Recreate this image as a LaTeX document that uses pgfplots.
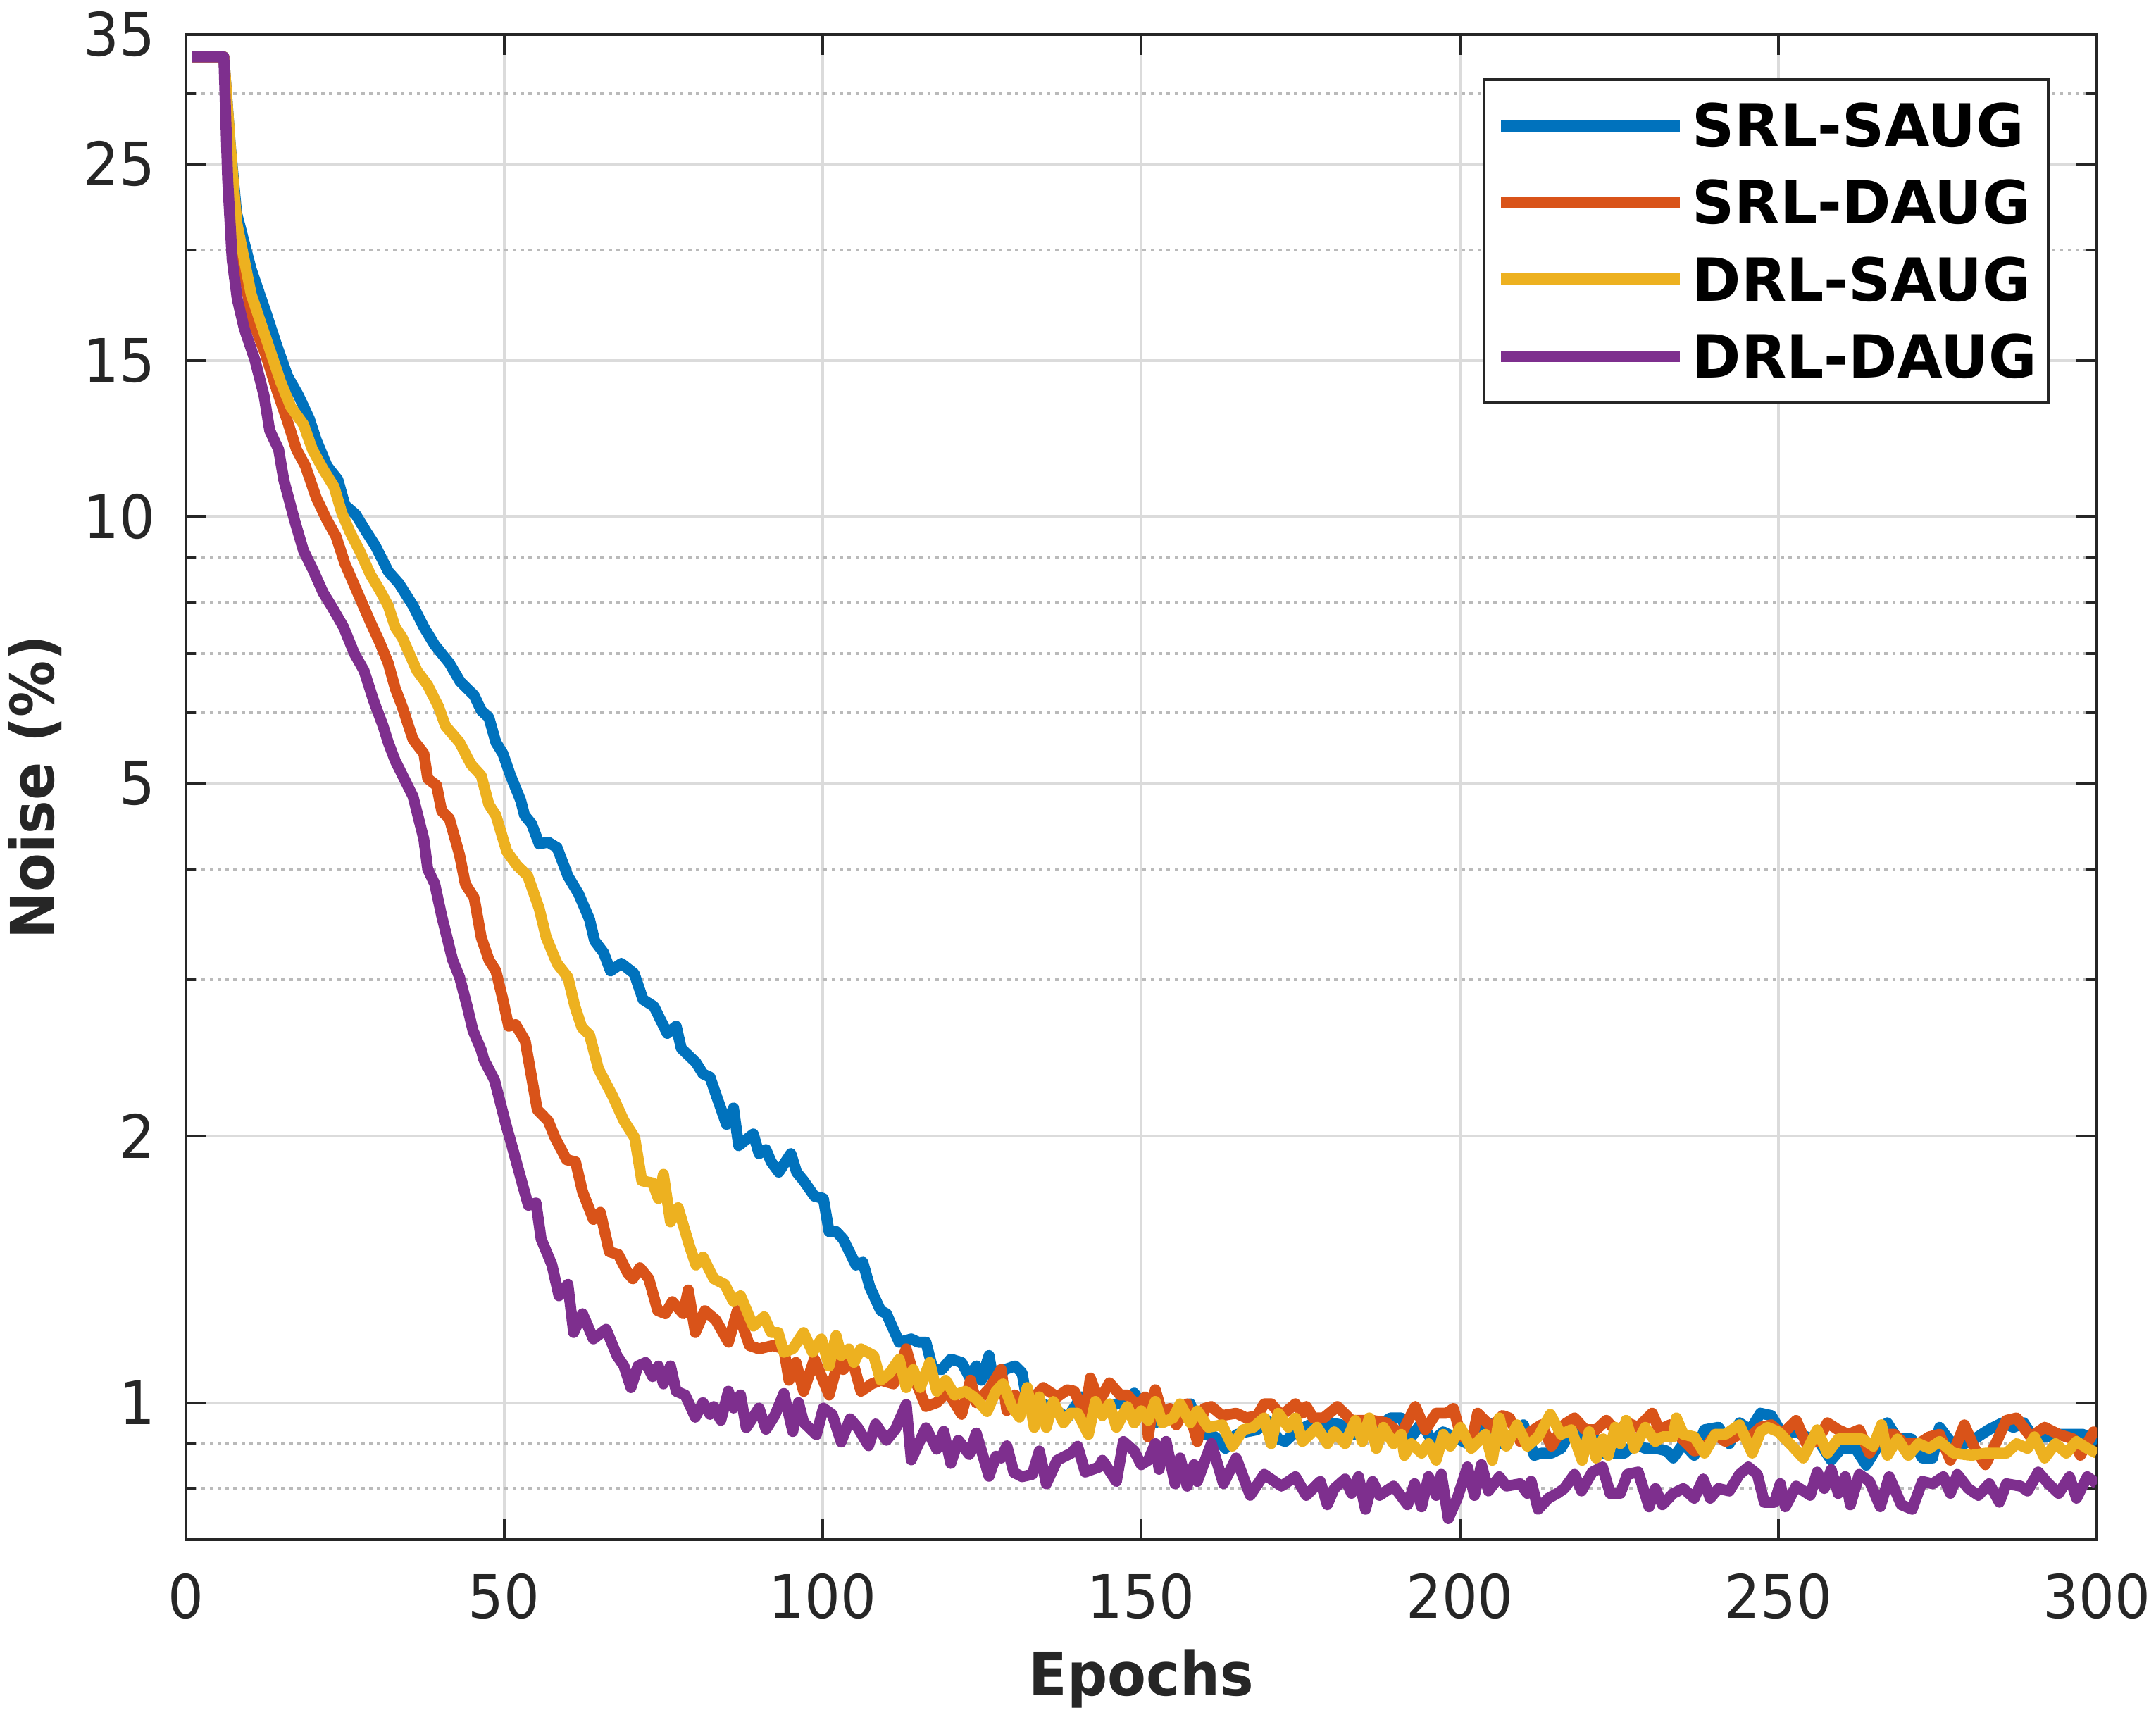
\documentclass[border=0pt]{standalone}
\usepackage{fontspec}
\setmainfont{DejaVu Sans}[FakeStretch=0.94]
\newfontfamily\legfont{DejaVu Sans}[FakeStretch=0.99]
\usepackage{pgfplots}
\pgfplotsset{compat=1.18}
\definecolor{c1}{RGB}{0,114,189}
\definecolor{c2}{RGB}{217,83,25}
\definecolor{c3}{RGB}{237,177,32}
\definecolor{c4}{RGB}{126,47,142}
\definecolor{axc}{RGB}{38,38,38}
\begin{document}
\begin{tikzpicture}
\path[use as bounding box] (-13.5mm,-12.7mm) rectangle (143.3mm,112mm);
\begin{axis}[
  anchor=south west, at={(0,0)},
  width=139mm, height=109.5mm, scale only axis,
  xmin=0, xmax=300, ymin=0.7, ymax=35, ymode=log,
  xtick={0,50,100,150,200,250,300}, xticklabels={0,50,100,150,200,250,300},
  ytick={1,2,5,10,15,25,35}, yticklabels={1,2,5,10,15,25,35},
  minor ytick={0.8,0.9,3,4,6,7,8,9,20,30},
  grid=both,
  major grid style={color=black!14, line width=0.2mm},
  minor grid style={color=black!27, line width=0.2mm, dash pattern=on 0.25mm off 0.33mm},
  tick align=inside, tick pos=both,
  major tick length=1.5mm, minor tick length=0.75mm,
  tick style={axc, line width=0.2mm},
  axis line style={axc, line width=0.2mm},
  tick label style={font=\fontsize{12.4}{14}\selectfont, text=axc, inner sep=0pt},
  xticklabel style={anchor=base, yshift=-5.7mm},
  yticklabel style={anchor=east, xshift=-2.13mm},
  xlabel={Epochs}, ylabel={Noise (\%)},
  label style={font=\fontsize{12.4}{14}\selectfont\bfseries, text=axc, inner sep=0pt},
  xlabel style={at={(axis description cs:0.5,-0.1032)}, anchor=base},
  ylabel style={at={(axis description cs:-0.0690,0.5)}, anchor=base},
  legend cell align=left,
  legend style={at={(axis description cs:1,1)}, anchor=north east, xshift=-3.45mm, yshift=-3.2mm,
    draw=axc, line width=0.2mm, fill=white, font=\legfont\fontsize{12.3}{14}\selectfont\bfseries, text=black,
    inner xsep=0.8mm, inner ysep=1.8mm, row sep=2.49mm, column sep=0.5mm,
    nodes={inner sep=0pt, text height=3.1mm, text depth=0pt}},
  legend image code/.code={\draw[#1, line width=0.86mm, line cap=butt] (0mm,0mm) -- (13mm,0mm);},
]
\addplot[c1, line width=0.8mm, line join=round, no markers] coordinates {
(1,33) (6,33) (7,26.3) (8,22) (10.3,19) (12.6,17) (14.3,15.6) (16,14.4) (17.7,13.7) (19.4,12.9) (20.5,12.2) (22.2,11.4) (23.9,11.0) (25,10.3) (26.7,10.05) (28.4,9.6) (29.8,9.26) (31.8,8.67) (33.5,8.4) (35.7,7.93) (37.4,7.5) (39.1,7.16) (41.4,6.83) (43.1,6.51) (45.3,6.28) (46.4,6.04) (47.6,5.93) (48.7,5.56) (49.8,5.4) (51,5.1) (52.6,4.78) (53.2,4.6) (54.3,4.5) (55.5,4.27) (56.9,4.29) (58.3,4.23) (60,3.93) (61.7,3.75) (63.4,3.51) (64.2,3.32) (65.6,3.22) (66.7,3.07) (68.4,3.13) (70.4,3.05) (71.8,2.85) (73.5,2.8) (75.6,2.61) (77,2.66) (77.8,2.51) (80.1,2.42) (81.2,2.35) (82.3,2.33) (83.5,2.2) (84.9,2.06) (86,2.15) (86.8,1.95) (89.1,2.01) (90,1.91) (91.1,1.93) (91.9,1.87) (93.1,1.82) (95,1.91) (95.9,1.82) (97,1.78) (98.7,1.71) (100.1,1.70) (101,1.56) (102.1,1.56) (103.2,1.53) (104.6,1.46) (105.2,1.43) (106.3,1.44) (107.4,1.35) (109.1,1.27) (110,1.26) (112,1.17) (113.9,1.18) (115,1.17) (116.2,1.17) (117.3,1.09) (118.7,1.09) (120.1,1.12) (121.8,1.11) (123,1.07) (124.1,1.1) (124.9,1.06) (126.1,1.13) (126.9,1.05) (128.6,1.09) (130.2,1.10) (131.3,1.08) (131.8,1.03) (132.9,1.02) (134,0.999) (135.7,0.99) (137.3,0.973) (138.4,0.961) (140.6,1.015) (142.8,1.0) (145,0.99) (146.7,1.0) (148.9,1.025) (150.6,0.979) (152.2,0.949) (153.9,0.973) (155.5,0.961) (157.7,0.997) (158.8,0.944) (159.9,0.921) (161.6,0.915) (163.2,0.888) (164.9,0.92) (166.5,0.927) (168.2,0.932) (169.8,0.955) (171.5,0.91) (172.6,0.904) (174.2,0.927) (176.4,0.944) (178.1,0.927) (179.7,0.949) (181.4,0.944) (183,0.921) (184.7,0.921) (186.3,0.932) (189.1,0.961) (190.8,0.961) (192.4,0.915) (194,0.949) (195.7,0.904) (197.4,0.927) (199,0.915) (201.2,0.899) (202.3,0.91) (204.5,0.949) (206.2,0.899) (208.4,0.921) (210,0.944) (211.7,0.872) (212.8,0.877) (214.4,0.877) (215.9,0.888) (217.5,0.932) (219.2,0.91) (220.8,0.921) (222.5,0.877) (224.1,0.877) (225.8,0.877) (227.5,0.899) (229.1,0.888) (230.8,0.888) (232.5,0.882) (233.5,0.866) (235.1,0.899) (236.8,0.872) (238.4,0.932) (240.6,0.938) (242.3,0.899) (243.9,0.949) (245.6,0.932) (247.2,0.973) (248.9,0.967) (250.6,0.921) (252.8,0.927) (254.4,0.915) (256.1,0.91) (258.3,0.861) (259.9,0.888) (262.1,0.888) (263.8,0.85) (265.4,0.888) (267.1,0.949) (268.7,0.91) (270.9,0.91) (272.6,0.866) (274.2,0.866) (275.3,0.938) (277,0.904) (279.2,0.899) (280.8,0.91) (283,0.932) (285.2,0.949) (286.9,0.938) (288.5,0.949) (290.2,0.91) (291.8,0.915) (294,0.921) (296.3,0.921) (297.9,0.921) (300,0.899)
};
\addlegendentry{SRL-SAUG\hspace{0.55mm}}
\addplot[c2, line width=0.8mm, line join=round, no markers] coordinates {
(1,33) (6,33) (7,26) (8,21.5) (10.3,16.8) (12.6,15.2) (14.3,13.9) (16,12.8) (17.4,11.9) (18.8,11.4) (20.5,10.5) (22.2,9.9) (23.6,9.5) (25,8.85) (27,8.2) (29,7.6) (30.5,7.2) (31.8,6.83) (32.9,6.4) (34,6.1) (35.7,5.6) (37.4,5.4) (38,5.06) (39.4,4.97) (40.2,4.65) (41.4,4.56) (43,4.15) (43.9,3.85) (45.3,3.71) (46.4,3.35) (47.6,3.16) (48.7,3.07) (49.8,2.85) (50.7,2.66) (51.8,2.67) (53.3,2.56) (55.2,2.14) (56.9,2.08) (58,1.99) (59.8,1.88) (61.2,1.87) (62.3,1.73) (64,1.61) (65.1,1.64) (66.5,1.48) (67.9,1.47) (69.4,1.40) (70.2,1.38) (71.3,1.42) (72.7,1.38) (74.1,1.27) (75.3,1.26) (76.4,1.30) (78.1,1.26) (78.9,1.34) (80,1.20) (81.5,1.27) (83.2,1.24) (85.2,1.17) (86.6,1.27) (88.5,1.16) (90,1.15) (92.2,1.16) (93.9,1.15) (94.7,1.06) (95.8,1.11) (97,1.03) (98.7,1.12) (101,1.02) (102.4,1.11) (103.2,1.09) (104.6,1.12) (106,1.03) (107.7,1.05) (109.1,1.06) (111.1,1.05) (113.1,1.15) (114.5,1.06) (116.2,0.99) (117.9,1.0) (119.6,1.03) (121.8,0.97) (123.2,1.06) (124.1,1.0) (126.3,1.04) (128,1.09) (128.9,0.98) (130.2,1.02) (131.8,0.99) (134.6,1.04) (136.8,1.015) (138.4,1.034) (139.5,1.03) (141.2,0.967) (142,1.066) (143.4,1.003) (145,1.053) (146.7,1.02) (147.8,1.02) (149.5,0.99) (150.6,1.015) (151.1,0.915) (152.2,1.034) (153.3,0.973) (154.5,0.985) (155.5,0.944) (157.2,0.997) (158.8,0.904) (159.9,0.985) (161,0.99) (162.7,0.967) (164.9,0.973) (166.5,0.961) (168.2,0.967) (169.3,0.997) (170.4,0.997) (172,0.967) (174.2,0.997) (175.3,0.973) (175.9,0.99) (177,0.961) (178.6,0.961) (180.8,0.99) (183,0.955) (184.7,0.955) (186.3,0.955) (188.5,0.949) (190.8,0.921) (193,0.99) (194.6,0.932) (196.3,0.973) (197.9,0.973) (199,0.985) (200.1,0.921) (201.8,0.899) (202.8,0.973) (205,0.938) (206.7,0.967) (207.8,0.961) (209.5,0.904) (211.1,0.927) (212.8,0.944) (214.4,0.893) (216.4,0.945) (218,0.961) (219.7,0.932) (221.4,0.932) (223,0.955) (224.7,0.927) (226.3,0.949) (228,0.938) (230.2,0.973) (231.3,0.932) (233,0.944) (234.6,0.915) (236.8,0.882) (238.4,0.888) (240.1,0.921) (241.7,0.904) (243.9,0.921) (245.6,0.915) (247.2,0.938) (248.9,0.944) (250.6,0.921) (252.8,0.955) (254.4,0.899) (256.1,0.904) (257.7,0.949) (259.4,0.932) (261,0.921) (262.7,0.932) (264.3,0.877) (266,0.921) (268.2,0.921) (269.8,0.899) (272,0.899) (273.7,0.915) (275.3,0.921) (277,0.861) (279.2,0.944) (280.8,0.888) (282.5,0.851) (284.1,0.899) (285.8,0.955) (287.4,0.961) (289.6,0.915) (291.8,0.938) (294,0.921) (296.3,0.91) (297.4,0.872) (299.5,0.927) (300,0.92)
};
\addlegendentry{SRL-DAUG\hspace{0.55mm}}
\addplot[c3, line width=0.8mm, line join=round, no markers] coordinates {
(1,33) (6,33) (7,26.3) (8,21.5) (10.3,17.8) (12.6,15.9) (14.9,14.2) (16.5,13.3) (18.5,12.7) (19.9,11.9) (21.6,11.3) (23.3,10.8) (24.5,10.1) (25.8,9.6) (27.3,9.15) (29,8.6) (30.5,8.25) (31.8,7.93) (32.9,7.5) (34,7.3) (36.3,6.7) (38,6.45) (39.7,6.1) (40.8,5.8) (43,5.56) (44.8,5.25) (46.4,5.1) (47.6,4.73) (48.7,4.6) (50.4,4.19) (52,4.04) (53.7,3.93) (55.5,3.61) (56.6,3.35) (58.3,3.13) (60,3.02) (61.1,2.8) (62.2,2.65) (63.4,2.6) (64.8,2.38) (67,2.22) (68.8,2.08) (70.5,1.99) (71.6,1.78) (73.3,1.77) (74.2,1.70) (75,1.81) (76.1,1.6) (77.3,1.66) (79,1.51) (80.1,1.43) (81.2,1.46) (82.9,1.38) (84.6,1.36) (86,1.30) (87.1,1.32) (89.1,1.22) (90.8,1.25) (91.9,1.2) (93,1.2) (93.9,1.14) (95.3,1.15) (97,1.2) (98.4,1.14) (99.8,1.18) (101,1.10) (102.1,1.19) (102.9,1.13) (104.1,1.15) (104.9,1.11) (106,1.15) (108,1.13) (109.1,1.06) (110.5,1.08) (112,1.12) (113.1,1.04) (114.2,1.09) (115.3,1.04) (116.8,1.11) (117.9,1.03) (119.3,1.06) (120.7,1.02) (122.4,1.03) (124.1,1.01) (125.8,0.977) (127.2,1.03) (128.3,1.05) (129.7,0.99) (130.9,0.963) (132.1,1.04) (133.2,0.938) (134,1.015) (135.1,0.938) (136.2,1.003) (137.8,0.949) (138.9,0.973) (140,0.973) (141.7,0.921) (142.8,1.003) (143.9,0.967) (145,0.997) (146.1,0.938) (147.8,0.99) (148.9,0.949) (150,0.979) (151.1,0.955) (152.2,1.003) (153.3,0.949) (155,0.961) (156.1,0.997) (157.7,0.949) (158.8,0.979) (160.5,0.938) (162.7,0.944) (164.3,0.893) (166,0.932) (167.6,0.938) (169.3,0.961) (170.4,0.899) (171.5,0.973) (173.1,0.938) (174.2,0.961) (175.3,0.904) (177.6,0.938) (179.2,0.899) (180.3,0.927) (182,0.899) (183.6,0.955) (184.7,0.904) (185.8,0.961) (186.9,0.888) (188,0.938) (189.6,0.899) (190.8,0.921) (191.3,0.872) (192.4,0.899) (194,0.877) (195.1,0.899) (196.3,0.861) (197.4,0.921) (198.5,0.893) (200.1,0.938) (201.8,0.888) (204,0.921) (205.1,0.861) (206.2,0.961) (207.3,0.893) (209,0.944) (210.6,0.893) (212.3,0.915) (214.2,0.97) (215.9,0.921) (217.5,0.932) (219.2,0.861) (220.3,0.927) (221.4,0.866) (222.5,0.91) (223.3,0.872) (224.4,0.938) (225.2,0.899) (226.1,0.955) (227.4,0.888) (229.1,0.938) (230.7,0.904) (231.8,0.915) (233.5,0.915) (234,0.961) (235.1,0.921) (236.8,0.915) (238.4,0.877) (240.1,0.921) (241.7,0.921) (243.9,0.944) (245.9,0.877) (247.2,0.927) (248.3,0.938) (250,0.927) (252.2,0.893) (253.9,0.866) (256.1,0.932) (257.7,0.877) (259.4,0.91) (261.6,0.91) (263.2,0.91) (264.9,0.893) (266.2,0.944) (267.1,0.872) (268.7,0.91) (270.4,0.872) (272,0.899) (273.7,0.888) (275.3,0.904) (277.5,0.877) (280.3,0.872) (282.5,0.877) (284.1,0.877) (285.8,0.877) (287.4,0.899) (289.1,0.888) (290.2,0.915) (291.8,0.866) (293.5,0.899) (295.2,0.877) (296.8,0.904) (298.5,0.888) (300,0.877)
};
\addlegendentry{DRL-SAUG\hspace{0.55mm}}
\addplot[c4, line width=0.8mm, line join=round, no markers] coordinates {
(1,33) (6,33) (6.6,24) (7.3,19.5) (8.1,17.6) (9.2,16.3) (10.9,15.0) (12.3,13.7) (13.2,12.5) (14.6,11.9) (15.4,11.0) (17.1,9.9) (18.5,9.15) (20,8.7) (21.6,8.2) (23,7.9) (24.8,7.5) (26.5,7.0) (28,6.7) (29.5,6.2) (31,5.8) (31.8,5.56) (32.9,5.3) (34.3,5.06) (35.7,4.83) (37.4,4.32) (38,4.0) (39.1,3.85) (40.2,3.54) (41.9,3.16) (43,3.02) (44.2,2.8) (45.1,2.63) (46.4,2.5) (46.8,2.44) (48.5,2.31) (50.2,2.07) (51.3,1.94) (53,1.75) (53.8,1.67) (55,1.68) (55.8,1.53) (57.5,1.43) (58.6,1.32) (60,1.36) (60.9,1.2) (62.3,1.26) (64,1.18) (66,1.21) (67.7,1.13) (68.8,1.1) (69.9,1.04) (71,1.1) (72.2,1.11) (73.3,1.07) (74.2,1.1) (75,1.05) (76.1,1.1) (77,1.03) (78.4,1.02) (80,0.963) (81.2,1.0) (82.3,0.97) (82.9,0.99) (84,0.955) (85.2,1.03) (86,0.986) (87.1,1.02) (88,0.937) (90,0.986) (91.1,0.933) (92.5,0.968) (93.9,1.024) (95.3,0.928) (96.2,1.0) (97,0.95) (99,0.92) (100.1,0.986) (101.5,0.97) (102.9,0.903) (104.3,0.959) (105.5,0.937) (107.2,0.894) (108.3,0.946) (110,0.907) (111.4,0.933) (113.1,0.995) (113.9,0.862) (116.2,0.937) (117.9,0.886) (119,0.928) (120.1,0.854) (121.3,0.907) (123,0.874) (124.1,0.924) (126.1,0.826) (127.2,0.87) (128,0.866) (128.9,0.894) (130,0.834) (131.3,0.825) (132.9,0.83) (134,0.882) (135.1,0.81) (136.8,0.861) (139,0.877) (140,0.893) (141.2,0.835) (143.4,0.846) (143.9,0.861) (146.1,0.815) (147.2,0.904) (148.9,0.882) (150,0.851) (151.1,0.861) (152.2,0.899) (152.8,0.841) (153.9,0.904) (155.3,0.81) (156.1,0.866) (157.2,0.805) (158.3,0.851) (158.8,0.815) (161,0.899) (162.9,0.81) (164.9,0.866) (167.1,0.786) (169.3,0.83) (172,0.805) (174.2,0.825) (175.9,0.786) (178.1,0.815) (179.2,0.767) (180.3,0.8) (182,0.82) (183,0.79) (184.1,0.825) (185.2,0.758) (186.3,0.815) (187.4,0.786) (189.6,0.805) (191.8,0.767) (192.9,0.81) (194,0.763) (195.1,0.825) (196.3,0.786) (197.1,0.83) (198.2,0.74) (199.6,0.78) (201.2,0.846) (202.3,0.786) (203.4,0.851) (204.5,0.795) (206.2,0.825) (207.3,0.805) (209.5,0.81) (210.6,0.79) (211.2,0.815) (212.3,0.758) (213.9,0.78) (215.3,0.79) (216.4,0.8) (218,0.83) (219.1,0.795) (220.8,0.835) (222.4,0.846) (223.6,0.79) (225.2,0.79) (226.3,0.83) (228,0.835) (229.7,0.763) (230.7,0.8) (231.8,0.767) (233.5,0.79) (235.1,0.8) (236.8,0.78) (238.2,0.82) (239.3,0.78) (240.6,0.8) (242.3,0.795) (243.9,0.83) (245.3,0.846) (246.7,0.83) (247.8,0.772) (249.4,0.772) (250.3,0.81) (251.1,0.763) (252.8,0.805) (255,0.786) (256.1,0.835) (257.2,0.8) (258.3,0.84) (259.4,0.79) (260.5,0.825) (261.3,0.767) (262.7,0.83) (264.3,0.815) (266,0.763) (267.4,0.825) (269.3,0.767) (271,0.758) (272.6,0.815) (274.2,0.81) (275.9,0.825) (277,0.79) (278.1,0.83) (279.8,0.8) (281.4,0.786) (283.1,0.81) (284.7,0.772) (285.8,0.81) (288,0.805) (289.1,0.795) (290.8,0.835) (292.4,0.81) (294,0.79) (295.7,0.825) (296.8,0.78) (298.5,0.825) (300,0.81)
};
\addlegendentry{DRL-DAUG\hspace{0.55mm}}
\end{axis}
\end{tikzpicture}
\end{document}
